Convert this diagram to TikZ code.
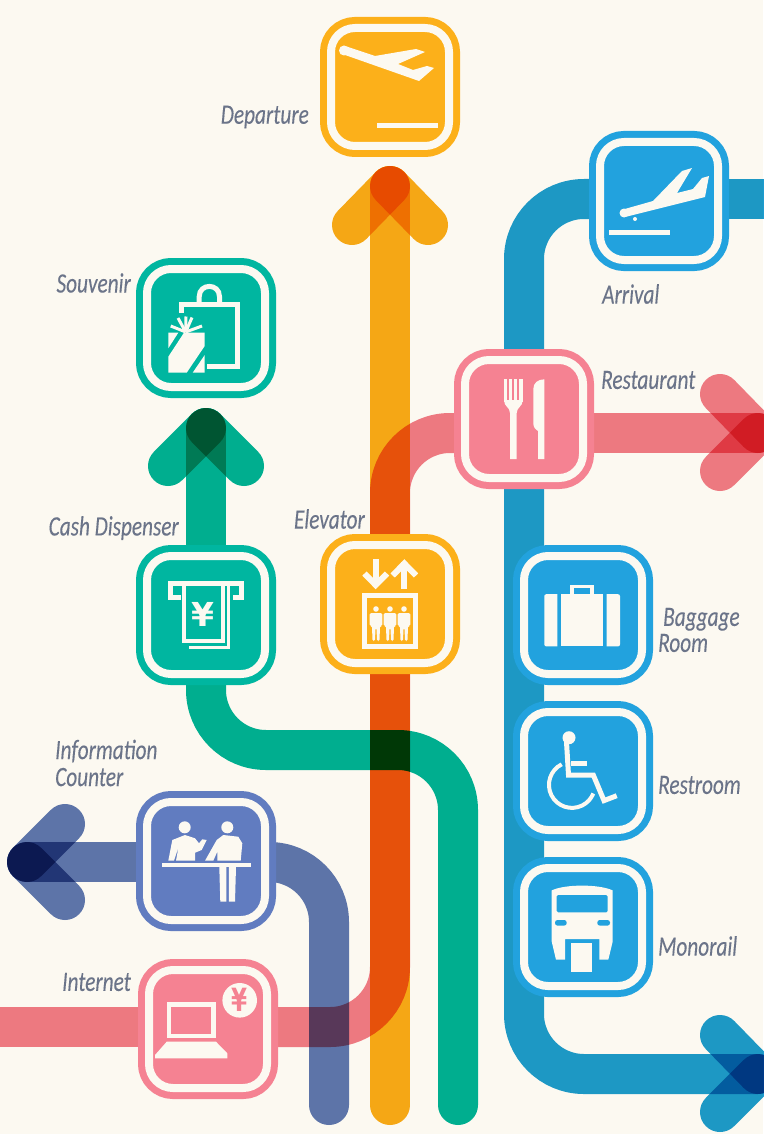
\documentclass[tikz,border=0pt]{standalone}
\usepackage{fontspec}
\usepackage{tikz}
\usetikzlibrary{backgrounds,positioning}
\newfontfamily\stationfont[FakeStretch=0.76,FakeBold=0.15]{Carlito}
\newfontfamily\yenfont{DejaVu Sans}
\definecolor{paper}{HTML}{FCF9F1}
\definecolor{yellowline}{HTML}{F8AC17}
\definecolor{yellowbox}{HTML}{FCB01A}
\definecolor{tealline}{HTML}{00B398}
\definecolor{tealbox}{HTML}{00B6A0}
\definecolor{blueline}{HTML}{1E9CD0}
\definecolor{bluebox}{HTML}{22A2DE}
\definecolor{pinkline}{HTML}{F07C88}
\definecolor{pinkbox}{HTML}{F58292}
\definecolor{indigoline}{HTML}{5F77B2}
\definecolor{indigobox}{HTML}{617CC0}
\definecolor{labelgrey}{HTML}{6B7489}
\tikzset{station/.style={rectangle,rounded corners=24pt,fill=#1,draw=paper,line width=8pt,minimum size=118pt,inner sep=0pt,outer sep=11pt,preaction={draw=#1,line width=22pt}}}
\tikzset{route/.style={draw=#1,line width=40pt,line cap=round,blend mode=multiply}}
\tikzset{routeturn/.style={route=#1,rounded corners=60pt}}
\tikzset{stationlabel/.style={inner sep=0pt,align=left,text=labelgrey,font=\stationfont\itshape\fontsize{28}{26}\selectfont}}
\tikzset{yenmark/.style={inner sep=0pt,font=\yenfont\bfseries\fontsize{#1}{#1}\selectfont}}
\tikzset{icon/.style={fill=paper}}
\tikzset{iconline/.style={draw=paper,line width=#1}}

\begin{document}
\begin{tikzpicture}[x=1pt,y=-1pt]
    \useasboundingbox (0,0) rectangle (763,1134);

    \node[station=yellowbox] (departure)   at (390,87)   {};
    \node[station=bluebox]   (arrival)     at (659,201)  {};
    \node[station=pinkbox]   (restaurant)  at (524,419)  {};
    \node[station=tealbox]   (souvenir)    at (206,328)  {};
    \node[station=tealbox]   (cash)        at (206,615)  {};
    \node[station=yellowbox] (elevator)    at (390,604)  {};
    \node[station=bluebox]   (baggage)     at (583,615)  {};
    \node[station=bluebox]   (restroom)    at (583,771)  {};
    \node[station=bluebox]   (monorail)    at (583,927)  {};
    \node[station=indigobox] (information) at (206,861)  {};
    \node[station=pinkbox]   (internet)    at (208,1029) {};

    \coordinate (yellowtip)   at (390,186);
    \coordinate (yellowbarbl) at (352,225);
    \coordinate (yellowbarbr) at (428,225);
    \coordinate (yellowend)   at (390,1105);
    \coordinate (tealtip)     at (206,428);
    \coordinate (tealbarbl)   at (168,466);
    \coordinate (tealbarbr)   at (244,466);
    \coordinate (tealturna)   at (206,750);
    \coordinate (tealturnb)   at (458,750);
    \coordinate (tealend)     at (458,1105);
    \coordinate (bluetop)     at (524,199);
    \coordinate (blueedge)    at (790,199);
    \coordinate (blueturn)    at (524,1074);
    \coordinate (bluetip)     at (758,1074);
    \coordinate (bluebarba)   at (720,1035);
    \coordinate (bluebarbb)   at (720,1112);
    \coordinate (pinktip)     at (758,433);
    \coordinate (pinkbarba)   at (720,394);
    \coordinate (pinkbarbb)   at (720,471);
    \coordinate (pinkturna)   at (390,433);
    \coordinate (pinkturnb)   at (390,1027);
    \coordinate (pinkedge)    at (-30,1027);
    \coordinate (indigotip)   at (27,862);
    \coordinate (indigobarba) at (65,824);
    \coordinate (indigobarbb) at (65,900);
    \coordinate (indigoturn)  at (329,862);
    \coordinate (indigoend)   at (329,1105);

    \begin{scope}[on background layer]
      \fill[paper] (0,0) rectangle (763,1134);

      \draw[route=yellowline] (elevator.center) -- (yellowtip);
      \draw[route=yellowline] (elevator.center) -- (yellowend);
      \draw[route=yellowline] (yellowtip) -- (yellowbarbl);
      \draw[route=yellowline] (yellowtip) -- (yellowbarbr);

      \draw[routeturn=pinkline] (restaurant.center |- pinkturna) -- (pinkturna) -- (elevator.center);
      \draw[routeturn=pinkline] (elevator.center) -- (pinkturnb) -- (internet.center |- pinkturnb);
      \draw[route=pinkline] (internet.center |- pinkturnb) -- (pinkedge);
      \draw[route=pinkline] (restaurant.center |- pinktip) -- (pinktip);
      \draw[route=pinkline] (pinktip) -- (pinkbarba);
      \draw[route=pinkline] (pinktip) -- (pinkbarbb);

      \draw[route=tealline] (cash.center) -- (tealtip);
      \draw[route=tealline] (tealtip) -- (tealbarbl);
      \draw[route=tealline] (tealtip) -- (tealbarbr);
      \draw[routeturn=tealline] (cash.center) -- (tealturna) -- (tealturnb) -- (tealend);

      \draw[route=indigoline] (information.center |- indigotip) -- (indigotip);
      \draw[route=indigoline] (indigotip) -- (indigobarba);
      \draw[route=indigoline] (indigotip) -- (indigobarbb);
      \draw[routeturn=indigoline] (information.center |- indigotip) -- (indigoturn) -- (indigoend);

      \draw[route=blueline] (arrival.center |- bluetop) -- (blueedge);
      \draw[routeturn=blueline] (arrival.center |- bluetop) -- (bluetop) -- (blueturn) -- (bluetip);
      \draw[route=blueline] (bluetip) -- (bluebarba);
      \draw[route=blueline] (bluetip) -- (bluebarbb);
    \end{scope}

    \node[stationlabel,anchor=east] (departurelabel)   at (309,117) {Departure};
    \node[stationlabel,anchor=west] (arrivallabel)     at (602,294) {Arrival};
    \node[stationlabel,anchor=west] (restaurantlabel)  at (601,380) {Restaurant};
    \node[stationlabel,anchor=east] (souvenirlabel)    at (131,283) {Souvenir};
    \node[stationlabel,anchor=east] (cashlabel)        at (179,528) {Cash Dispenser};
    \node[stationlabel,anchor=east] (elevatorlabel)    at (365,519) {Elevator};
    \node[stationlabel,anchor=west] (baggagelabel)     at (658,630) {\hspace*{5pt}Baggage\\Room};
    \node[stationlabel,anchor=west] (restroomlabel)    at (658,785) {Restroom};
    \node[stationlabel,anchor=west] (monoraillabel)    at (658,946) {Monorail};
    \node[stationlabel,anchor=west] (informationlabel) at (55,763)  {Information\\[1pt]Counter};
    \node[stationlabel,anchor=east] (internetlabel)    at (131,982) {Internet};

    \fill[icon] (345,46) -- (375,56) -- (416,49) -- (425,52) -- (398,64) -- (413,70) -- (427,66) -- (434,68) -- (419,81) -- (345,55) -- cycle;
    \fill[icon] (344,50.5) circle[radius=5];
    \fill[icon] (377,122.7) rectangle (438,128);

    \fill[icon] (623,209.5) -- (653,201) -- (682,171) -- (692,168) -- (677,193) -- (693,189) -- (702,178) -- (709,176) -- (705,197) -- (625,217) -- cycle;
    \fill[icon] (624,213) circle[radius=4.5];
    \fill[icon] (635,219) circle[radius=2];
    \fill[icon] (609,229.7) rectangle (670,235);

    \foreach \tine in {504,509,514,519.4}
      \fill[icon] (\tine,379.3) rectangle ({\tine+3.3},402);
    \fill[icon] (504,400) .. controls (504,407) and (510,407) .. (510,413) -- (510,459) -- (516.7,459) -- (516.7,413) .. controls (516.7,407) and (522.7,407) .. (522.7,400) -- cycle;
    \fill[icon] (544.3,379.3) .. controls (538,379.3) and (533.3,383) .. (533.3,389) -- (533.3,423) .. controls (533.3,427) and (535,429) .. (538,431) -- (538,459) -- (544.3,459) -- cycle;

    \draw[iconline=5pt] (181.5,313) -- (181.5,304.7) -- (237.5,304.7) -- (237.5,366.3) -- (207.3,366.3);
    \draw[iconline=5pt] (199.2,302.3) -- (199.2,296.6) .. controls (199.2,283) and (219.5,283) .. (219.5,296.6) -- (219.5,302.3);
    \fill[icon] (168.3,332.7) -- (178.3,332.7) -- (168.3,348.3) -- cycle;
    \fill[icon] (184,332.7) -- (204.7,332.7) -- (204.7,346) -- (186.7,372.7) -- (168.3,372.7) -- (168.3,356.7) -- cycle;
    \fill[icon] (204.7,355) -- (204.7,372.7) -- (192.7,372.7) -- cycle;
    \foreach \bowx/\bowy in {170.7/326,178/318,186/316.5,192/317.5,202/326}
      \draw[iconline=3pt] (185.7,332) -- (\bowx,\bowy);

    \draw[iconline=5pt] (181,597.7) -- (170.7,597.7) -- (170.7,583) -- (241.7,583) -- (241.7,597.7) -- (232.7,597.7);
    \draw[iconline=4pt] (184.3,583) -- (184.3,641) -- (222.7,641) -- (222.7,583);
    \draw[iconline=3pt] (228.7,583) -- (228.7,647.7) -- (189,647.7);
    \node[yenmark=33,text=paper] (cashyen) at (202.7,614) {¥};

    \draw[iconline=6pt] (375.7,559) -- (375.7,586);
    \draw[iconline=6pt] (364.5,573.5) -- (375.7,585) -- (387,573.5);
    \draw[iconline=6pt] (404.3,589) -- (404.3,562);
    \draw[iconline=6pt] (392.7,575.5) -- (404.3,563.5) -- (416,575.5);
    \draw[iconline=5pt] (364.2,595.2) rectangle (415.8,646.8);
    \foreach \person in {376,390,404} {
      \fill[icon] (\person,609) circle[radius=2.8];
      \fill[icon,rounded corners=1.5pt] (\person-6.3,613) -- (\person+6.3,613) -- (\person+6.3,626) -- (\person+4,626) -- (\person+3.5,641) -- (\person+1,641) -- (\person+.5,628) -- (\person-.5,628) -- (\person-1,641) -- (\person-3.5,641) -- (\person-4,626) -- (\person-6.3,626) -- cycle;
    }

    \fill[icon,rounded corners=2pt] (557.3,594.2) -- (544.3,594.2) -- (544.3,646.4) -- (557.3,646.4);
    \fill[icon] (561,594.2) rectangle (603.3,646.4);
    \fill[icon,rounded corners=2pt] (606.7,594.2) -- (620,594.2) -- (620,646.4) -- (606.7,646.4);
    \draw[iconline=3.5pt] (572,594.2) -- (572,586.5) -- (592,586.5) -- (592,594.2);

    \fill[icon] (569,737.7) circle[radius=6.5];
    \draw[iconline=5pt] (566.5,742) -- (568.5,775) -- (593.3,775) -- (604,800.6) -- (616.7,795.7);
    \draw[iconline=5pt] (571,763.5) -- (587.3,763.5);
    \draw[iconline=4pt] (561.7,764.3) arc[start angle=243.5,end angle=22,radius=23];

    \fill[icon] (551.7,890.4) .. controls (565,884) and (599,884) .. (612.7,890.4) -- (612.7,941.5) -- (608.3,959.7) -- (599.3,959.7) -- (599.3,939) -- (565,939) -- (565,959.7) -- (556,959.7) -- (551.7,941.5) -- cycle;
    \fill[bluebox,rounded corners=1.5pt] (556.7,895) rectangle (607.7,912.4);
    \fill[bluebox,rounded corners=2.5pt] (555,920) rectangle (566.7,925.6);
    \fill[bluebox,rounded corners=2.5pt] (597.3,920) rectangle (610,925.6);
    \fill[icon] (571,943.4) rectangle (592.3,971.8);

    \fill[icon] (162,862.7) rectangle (250.7,867);
    \fill[icon] (184.7,827.3) circle[radius=6];
    \fill[icon] (227.3,827.3) circle[radius=6];
    \fill[icon] (168.3,860.7) -- (172.3,840) -- (185,835) -- (195,838.3) -- (199,843.3) -- (202.3,839.3) -- (206.7,840) -- (201.7,850) -- (195,852.7) -- (195,860.7) -- (176,860.7) -- (178.5,847) -- (174,860.7) -- cycle;
    \fill[icon] (205,860.7) -- (216.7,840) -- (223.3,835) -- (238.3,836.7) -- (242.3,843.3) -- (240.7,860.7) -- (217.3,860.7) -- (217.3,851.7) -- (213.3,860.7) -- cycle;
    \fill[icon] (219.3,867) -- (226.3,867) -- (226.3,901.7) -- (220.3,901.7) -- cycle;
    \fill[icon] (228.8,867) -- (236,867) -- (235,901.7) -- (228.8,901.7) -- cycle;

    \draw[iconline=4.7pt] (169,1004.3) rectangle (213.7,1036);
    \fill[icon] (166.7,1041.7) -- (216,1041.7) -- (227.3,1053.3) -- (227.3,1058.3) -- (155,1058.3) -- (155,1055) -- cycle;
    \fill[icon] (239.7,1000.3) circle[radius=17.3];
    \node[yenmark=32,text=pinkbox] (internetyen) at (239.7,1000.3) {\scalebox{.72}[1]{¥}};
  \end{tikzpicture}
\end{document}
